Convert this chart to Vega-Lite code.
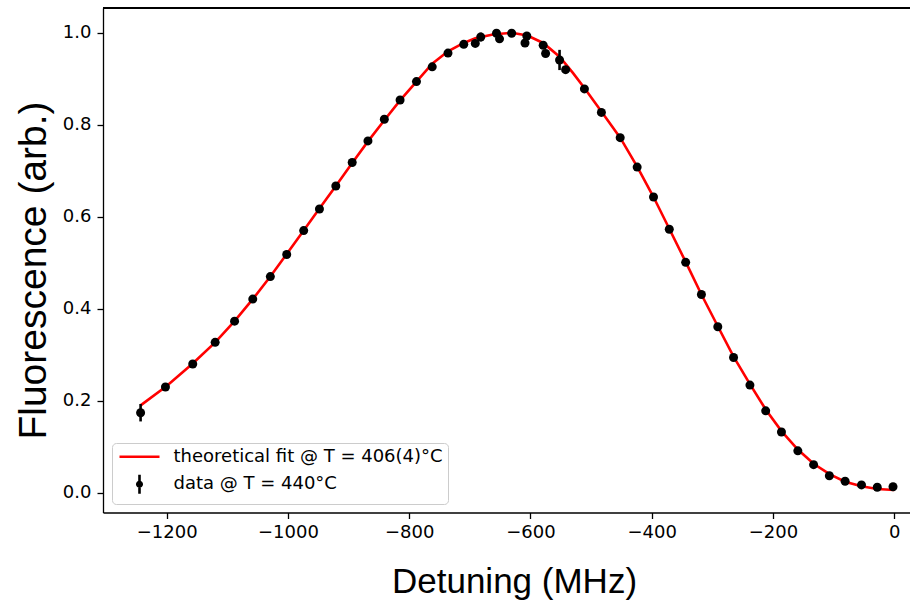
{
  "$schema": "https://vega.github.io/schema/vega-lite/v6.json",
  "width": 807,
  "height": 504.5,
  "autosize": {"type": "none"},
  "padding": {"left": 103, "top": 8, "right": 0, "bottom": 90.5},
  "background": "white",
  "config": {
    "view": {"stroke": null},
    "axis": {
      "domainColor": "#000", "domainWidth": 1.3,
      "tickColor": "#000", "tickWidth": 1.3, "tickSize": 6,
      "labelFont": "DejaVu Sans", "labelFontSize": 18, "labelColor": "#000",
      "titleFont": "Liberation Sans", "titleFontWeight": "normal", "titleColor": "#000",
      "grid": false
    }
  },
  "datasets": {
    "fit": [
      {"detuning": -1243, "fluorescence": 0.190},
      {"detuning": -1200, "fluorescence": 0.232},
      {"detuning": -1157, "fluorescence": 0.281},
      {"detuning": -1120, "fluorescence": 0.327},
      {"detuning": -1088, "fluorescence": 0.373},
      {"detuning": -1058, "fluorescence": 0.421},
      {"detuning": -1029, "fluorescence": 0.470},
      {"detuning": -1002, "fluorescence": 0.519},
      {"detuning": -974, "fluorescence": 0.570},
      {"detuning": -948, "fluorescence": 0.618},
      {"detuning": -921, "fluorescence": 0.667},
      {"detuning": -894, "fluorescence": 0.717},
      {"detuning": -868, "fluorescence": 0.764},
      {"detuning": -841, "fluorescence": 0.810},
      {"detuning": -815, "fluorescence": 0.853},
      {"detuning": -788, "fluorescence": 0.894},
      {"detuning": -762, "fluorescence": 0.933},
      {"detuning": -736, "fluorescence": 0.960},
      {"detuning": -710, "fluorescence": 0.978},
      {"detuning": -691, "fluorescence": 0.988},
      {"detuning": -660, "fluorescence": 0.997},
      {"detuning": -631, "fluorescence": 1.000},
      {"detuning": -605, "fluorescence": 0.994},
      {"detuning": -579, "fluorescence": 0.978},
      {"detuning": -552, "fluorescence": 0.948},
      {"detuning": -530, "fluorescence": 0.913},
      {"detuning": -511, "fluorescence": 0.880},
      {"detuning": -483, "fluorescence": 0.829},
      {"detuning": -452, "fluorescence": 0.772},
      {"detuning": -424, "fluorescence": 0.709},
      {"detuning": -397, "fluorescence": 0.643},
      {"detuning": -371, "fluorescence": 0.574},
      {"detuning": -344, "fluorescence": 0.502},
      {"detuning": -318, "fluorescence": 0.431},
      {"detuning": -291, "fluorescence": 0.362},
      {"detuning": -265, "fluorescence": 0.296},
      {"detuning": -238, "fluorescence": 0.236},
      {"detuning": -212, "fluorescence": 0.181},
      {"detuning": -186, "fluorescence": 0.134},
      {"detuning": -159, "fluorescence": 0.094},
      {"detuning": -133, "fluorescence": 0.063},
      {"detuning": -106, "fluorescence": 0.040},
      {"detuning": -81, "fluorescence": 0.024},
      {"detuning": -54, "fluorescence": 0.014},
      {"detuning": -28, "fluorescence": 0.008},
      {"detuning": 0, "fluorescence": 0.006}
    ],
    "data": [
      {"detuning": -1243, "fluorescence": 0.174, "err": 0.019},
      {"detuning": -1202, "fluorescence": 0.230, "err": 0.004},
      {"detuning": -1157, "fluorescence": 0.280, "err": 0.004},
      {"detuning": -1120, "fluorescence": 0.327, "err": 0.004},
      {"detuning": -1088, "fluorescence": 0.373, "err": 0.004},
      {"detuning": -1058, "fluorescence": 0.421, "err": 0.004},
      {"detuning": -1029, "fluorescence": 0.470, "err": 0.004},
      {"detuning": -1002, "fluorescence": 0.518, "err": 0.004},
      {"detuning": -974, "fluorescence": 0.570, "err": 0.004},
      {"detuning": -948, "fluorescence": 0.617, "err": 0.004},
      {"detuning": -921, "fluorescence": 0.667, "err": 0.004},
      {"detuning": -894, "fluorescence": 0.718, "err": 0.004},
      {"detuning": -868, "fluorescence": 0.765, "err": 0.004},
      {"detuning": -841, "fluorescence": 0.812, "err": 0.004},
      {"detuning": -815, "fluorescence": 0.854, "err": 0.004},
      {"detuning": -788, "fluorescence": 0.894, "err": 0.004},
      {"detuning": -762, "fluorescence": 0.926, "err": 0.004},
      {"detuning": -736, "fluorescence": 0.956, "err": 0.004},
      {"detuning": -710, "fluorescence": 0.975, "err": 0.004},
      {"detuning": -691, "fluorescence": 0.977, "err": 0.004},
      {"detuning": -682, "fluorescence": 0.991, "err": 0.0095},
      {"detuning": -656, "fluorescence": 0.999, "err": 0.004},
      {"detuning": -651, "fluorescence": 0.987, "err": 0.004},
      {"detuning": -631, "fluorescence": 0.999, "err": 0.004},
      {"detuning": -606, "fluorescence": 0.993, "err": 0.004},
      {"detuning": -609, "fluorescence": 0.978, "err": 0.004},
      {"detuning": -579, "fluorescence": 0.973, "err": 0.004},
      {"detuning": -575, "fluorescence": 0.955, "err": 0.004},
      {"detuning": -552, "fluorescence": 0.941, "err": 0.022},
      {"detuning": -542, "fluorescence": 0.920, "err": 0.004},
      {"detuning": -511, "fluorescence": 0.878, "err": 0.004},
      {"detuning": -483, "fluorescence": 0.827, "err": 0.004},
      {"detuning": -452, "fluorescence": 0.772, "err": 0.004},
      {"detuning": -424, "fluorescence": 0.708, "err": 0.004},
      {"detuning": -397, "fluorescence": 0.643, "err": 0.004},
      {"detuning": -371, "fluorescence": 0.573, "err": 0.004},
      {"detuning": -344, "fluorescence": 0.501, "err": 0.004},
      {"detuning": -318, "fluorescence": 0.431, "err": 0.004},
      {"detuning": -291, "fluorescence": 0.361, "err": 0.004},
      {"detuning": -265, "fluorescence": 0.294, "err": 0.004},
      {"detuning": -238, "fluorescence": 0.234, "err": 0.004},
      {"detuning": -212, "fluorescence": 0.178, "err": 0.004},
      {"detuning": -186, "fluorescence": 0.132, "err": 0.004},
      {"detuning": -159, "fluorescence": 0.091, "err": 0.004},
      {"detuning": -133, "fluorescence": 0.061, "err": 0.004},
      {"detuning": -107, "fluorescence": 0.037, "err": 0.004},
      {"detuning": -81, "fluorescence": 0.025, "err": 0.004},
      {"detuning": -54, "fluorescence": 0.017, "err": 0.004},
      {"detuning": -28, "fluorescence": 0.012, "err": 0.004},
      {"detuning": -2, "fluorescence": 0.013, "err": 0.004}
    ]
  },
  "layer": [
    {
      "data": {"name": "fit"},
      "mark": {"type": "line", "color": "#ff0000", "strokeWidth": 2.6, "clip": true},
      "encoding": {
        "x": {
          "field": "detuning", "type": "quantitative", "title": "Detuning (MHz)",
          "scale": {"domain": [-1305, 26], "nice": false, "zero": false},
          "axis": {
            "values": [-1200, -1000, -800, -600, -400, -200, 0],
            "format": "d", "labelPadding": 5,
            "titleFontSize": 35,
            "titleBaseline": "alphabetic", "titleX": 411, "titleY": 80, "titleAlign": "center"
          }
        },
        "y": {
          "field": "fluorescence", "type": "quantitative", "title": "Fluorescence (arb.)",
          "scale": {"domain": [-0.043, 1.054], "nice": false, "zero": false},
          "axis": {
            "values": [0, 0.2, 0.4, 0.6, 0.8, 1.0],
            "format": ".1f", "labelPadding": 6,
            "titleFontSize": 39,
            "titleAngle": 270, "titleBaseline": "alphabetic", "titleAlign": "center",
            "titleX": -58, "titleY": 262
          }
        }
      }
    },
    {
      "data": {"name": "data"},
      "mark": {"type": "errorbar", "color": "#000", "thickness": 2.6, "ticks": false},
      "encoding": {
        "x": {"field": "detuning", "type": "quantitative", "title": "Detuning (MHz)"},
        "y": {"field": "fluorescence", "type": "quantitative", "title": "Fluorescence (arb.)"},
        "yError": {"field": "err"}
      }
    },
    {
      "data": {"name": "data"},
      "mark": {"type": "point", "filled": true, "color": "#000", "opacity": 1, "size": 81},
      "encoding": {
        "x": {"field": "detuning", "type": "quantitative", "title": "Detuning (MHz)"},
        "y": {"field": "fluorescence", "type": "quantitative", "title": "Fluorescence (arb.)"}
      }
    },
    {
      "data": {"name": "data"},
      "mark": {"type": "rule", "color": "#000", "strokeWidth": 1.3},
      "encoding": {"y": {"datum": 1.054, "title": "Fluorescence (arb.)"}}
    },
    {
      "data": {"name": "data"},
      "transform": [{"filter": "datum.detuning > 100000"}],
      "mark": {"type": "point", "filled": false, "opacity": 1, "strokeWidth": 2.6},
      "encoding": {
        "x": {"field": "detuning", "type": "quantitative", "title": "Detuning (MHz)"},
        "y": {"field": "fluorescence", "type": "quantitative", "title": "Fluorescence (arb.)"},
        "color": {
          "field": "series", "type": "nominal",
          "scale": {"domain": ["theoretical fit @ T = 406(4)°C", "data @ T = 440°C"], "range": ["#ff0000", "#000000"]},
          "legend": {
            "title": null, "orient": "bottom-left", "offset": 9,
            "padding": 4.75, "fillColor": "rgba(255,255,255,0.8)", "strokeColor": "#cccccc", "cornerRadius": 4,
            "labelFont": "DejaVu Sans", "labelFontSize": 18, "labelColor": "#000", "labelLimit": 400,
            "symbolSize": 100, "symbolStrokeWidth": 2.6, "symbolFillColor": "#000000", "rowPadding": 3.5,
            "symbolOffset": 13.75, "labelOffset": 25, "symbolOpacity": 1
          }
        },
        "shape": {
          "field": "series", "type": "nominal",
          "scale": {"domain": ["theoretical fit @ T = 406(4)°C", "data @ T = 440°C"], "range": ["M-4,0L4,0", "M0,-1.9L0,1.9M-0.45,0A0.45,0.45 0 1,0 0.45,0A0.45,0.45 0 1,0 -0.45,0Z"]}
        }
      }
    }
  ]
}
